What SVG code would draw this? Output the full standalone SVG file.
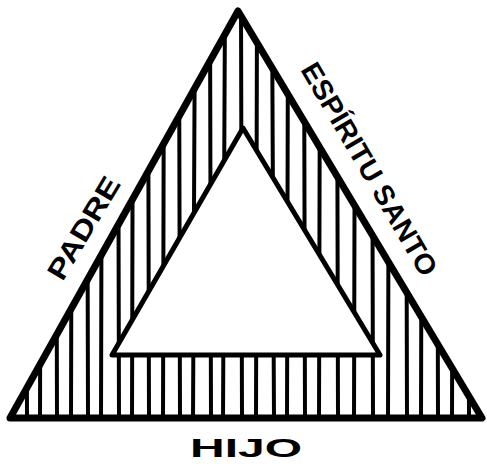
<svg xmlns="http://www.w3.org/2000/svg" width="487" height="466" viewBox="0 0 487 466">
<style>
.lbl{font-family:"Liberation Sans","DejaVu Sans",sans-serif;font-weight:bold;fill:#000;}
.hatch{stroke:#000;stroke-width:4;fill:none;stroke-linecap:round;}
.edge{fill:none;stroke:#000;stroke-linejoin:round;}
</style>
<defs>
<clipPath id="ring">
<path clip-rule="evenodd" d="M10 418 L238 11 L482 418 Z M112 355 L243 128 L380 355 Z"/>
</clipPath>
</defs>
<rect width="487" height="466" fill="#fff"/>
<g id="hatching" clip-path="url(#ring)">
<path class="hatch" d="M26 0 L27 420 M41 0 L40 420 M56 0 L57 420 M72 0 L71 420 M87 0 L88 420 M102 0 L101 420 M118 0 L119 420 M133 0 L132 420 M148 0 L149 420 M164 0 L163 420 M179 0 L180 420 M195 0 L193 420 M210 0 L211 420 M225 0 L223 420 M241 0 L242 420 M257 0 L256 420 M272 0 L274 420 M288 0 L287 420 M304 0 L305 420 M320 0 L319 420 M337 0 L338 420 M355 0 L354 420 M372 0 L373 420 M389 0 L388 420 M406 0 L407 420 M422 0 L421 420 M437 0 L438 420 M453 0 L452 420 M468 0 L469 420"/>
</g>
<g id="outer-triangle">
<path class="edge" stroke-width="7" d="M10 418 L238 11 L482 418 Z"/>
</g>
<g id="inner-triangle">
<path class="edge" stroke-width="5" d="M112 355 L243 128 L380 355 Z"/>
</g>
<g id="padre">
<text class="lbl" font-size="28" text-anchor="middle" textLength="115" lengthAdjust="spacingAndGlyphs" transform="translate(92,233) rotate(-59)">PADRE</text>
</g>
<g id="espiritu-santo">
<text class="lbl" font-size="28" text-anchor="middle" textLength="242" lengthAdjust="spacingAndGlyphs" transform="translate(361,174) rotate(59.7)">ESPÍRITU SANTO</text>
</g>
<g id="hijo">
<text class="lbl" font-size="26" text-anchor="middle" textLength="112" lengthAdjust="spacingAndGlyphs" x="246" y="457">HIJO</text>
</g>
</svg>
